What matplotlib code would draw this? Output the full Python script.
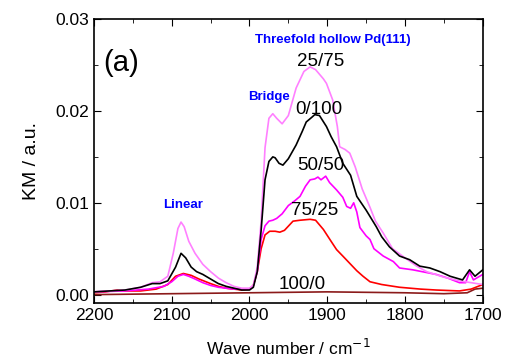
import matplotlib
matplotlib.use('Agg')
import matplotlib.pyplot as plt
from matplotlib.ticker import MultipleLocator

plt.rcParams['font.family'] = ['Liberation Sans', 'DejaVu Sans']

# 25/75 (light pink)
wn_2575 = [2200, 2180, 2160, 2140, 2125, 2115, 2105, 2098, 2092, 2088, 2084, 2078, 2070, 2060,
           2050, 2040, 2030, 2020, 2010, 2000, 1995, 1990, 1985, 1980, 1975, 1970, 1965, 1958,
           1950, 1940, 1930, 1922, 1915, 1905, 1901, 1893, 1887, 1884, 1877, 1871, 1864, 1855,
           1845, 1838, 1828, 1816, 1800, 1785, 1772, 1750, 1730, 1715, 1700]
km_2575 = [0.0003, 0.0004, 0.0005, 0.0008, 0.0013, 0.0014, 0.0020, 0.0045, 0.0072, 0.0079, 0.0074,
           0.0058, 0.0045, 0.0033, 0.0025, 0.0018, 0.0013, 0.0009, 0.0007, 0.0007, 0.0010, 0.0030,
           0.0080, 0.0160, 0.0192, 0.0197, 0.0192, 0.0186, 0.0195, 0.0225, 0.0243, 0.0248, 0.0245,
           0.0235, 0.0230, 0.0212, 0.0183, 0.0161, 0.0158, 0.0154, 0.0139, 0.0115, 0.0095, 0.0080,
           0.0067, 0.0050, 0.0040, 0.0031, 0.0025, 0.0019, 0.0015, 0.0013, 0.0011]

# 0/100 (black)
wn_0100 = [2200, 2160, 2140, 2125, 2115, 2105, 2095, 2088, 2082, 2075, 2068, 2060, 2050, 2040, 2030,
           2020, 2010, 2000, 1995, 1990, 1985, 1980, 1975, 1970, 1967, 1962, 1957, 1950, 1940, 1932,
           1927, 1920, 1916, 1910, 1901, 1895, 1888, 1880, 1870, 1862, 1850, 1837, 1830, 1820, 1807,
           1794, 1781, 1768, 1755, 1742, 1726, 1717, 1710, 1700]
km_0100 = [0.0003, 0.0005, 0.0008, 0.0012, 0.0012, 0.0015, 0.0030, 0.0045, 0.0040, 0.0030, 0.0025,
           0.0022, 0.0017, 0.0012, 0.0009, 0.0007, 0.0005, 0.0005, 0.0008, 0.0025, 0.0070, 0.0125,
           0.0145, 0.0150, 0.0149, 0.0143, 0.0141, 0.0148, 0.0163, 0.0178, 0.0188, 0.0193, 0.0196,
           0.0195, 0.0183, 0.0172, 0.0161, 0.0143, 0.0130, 0.0107, 0.0092, 0.0074, 0.0063, 0.0052,
           0.0042, 0.0038, 0.0031, 0.0029, 0.0025, 0.0020, 0.0016, 0.0027, 0.0020, 0.0027]

# 50/50 (magenta)
wn_5050 = [2200, 2160, 2130, 2110, 2100, 2092, 2085, 2078, 2070, 2060, 2050, 2040, 2030, 2020, 2010,
           2000, 1995, 1990, 1985, 1980, 1975, 1970, 1965, 1958, 1950, 1942, 1935, 1928, 1922, 1916,
           1912, 1908, 1902, 1897, 1888, 1880, 1875, 1870, 1866, 1862, 1858, 1850, 1845, 1840, 1828,
           1815, 1807, 1790, 1772, 1760, 1745, 1730, 1722, 1717, 1712, 1700]
km_5050 = [0.0003, 0.0004, 0.0006, 0.0009, 0.0014, 0.0020, 0.0022, 0.0020, 0.0017, 0.0013, 0.0010,
           0.0008, 0.0007, 0.0006, 0.0006, 0.0006, 0.0010, 0.0025, 0.0060, 0.0075, 0.0080, 0.0081,
           0.0083, 0.0088, 0.0097, 0.0102, 0.0107, 0.0118, 0.0125, 0.0126, 0.0128, 0.0125, 0.0129,
           0.0122, 0.0114, 0.0106, 0.0096, 0.0094, 0.0100, 0.0090, 0.0073, 0.0064, 0.0060, 0.0050,
           0.0042, 0.0036, 0.0029, 0.0027, 0.0024, 0.0022, 0.0018, 0.0013, 0.0013, 0.0025, 0.0016,
           0.0022]

# 75/25 (red)
wn_7525 = [2200, 2185, 2170, 2160, 2140, 2120, 2105, 2095, 2085, 2075, 2065, 2050, 2040, 2030, 2020,
           2010, 2000, 1995, 1990, 1985, 1980, 1974, 1967, 1961, 1955, 1944, 1935, 1922, 1915, 1905,
           1895, 1888, 1880, 1871, 1862, 1854, 1845, 1830, 1807, 1780, 1760, 1730, 1715, 1700]
km_7525 = [0.0002, 0.0003, 0.0005, 0.0004, 0.0004, 0.0006, 0.0011, 0.0020, 0.0023, 0.0021, 0.0017,
           0.0012, 0.0009, 0.0007, 0.0006, 0.0005, 0.0006, 0.0010, 0.0025, 0.0050, 0.0065, 0.0069,
           0.0069, 0.0068, 0.0070, 0.0080, 0.0081, 0.0082, 0.0081, 0.0071, 0.0058, 0.0049, 0.0042,
           0.0034, 0.0026, 0.0020, 0.0014, 0.0011, 0.0008, 0.0006, 0.0005, 0.0004, 0.0006, 0.0011]

# 100/0 (dark red)
wn_1000 = [2200, 2100, 2000, 1900, 1800, 1750, 1720, 1710, 1700]
km_1000 = [0.0000, 0.0001, 0.0002, 0.0003, 0.0002, 0.0001, 0.0002, 0.0006, 0.0007]

fig = plt.figure(figsize=(5.05, 3.61), dpi=100)
ax = fig.add_axes([0.186, 0.161, 0.770, 0.786])

ax.plot(wn_1000, km_1000, color='#8B1A1A', lw=1.2)
ax.plot(wn_7525, km_7525, color='#FF0000', lw=1.2)
ax.plot(wn_5050, km_5050, color='#FF00FF', lw=1.2)
ax.plot(wn_2575, km_2575, color='#FF80FF', lw=1.2)
ax.plot(wn_0100, km_0100, color='black', lw=1.2)

ax.set_xlim(2200, 1700)
ax.set_ylim(-0.0009, 0.03)
ax.xaxis.set_major_locator(MultipleLocator(100))
ax.xaxis.set_minor_locator(MultipleLocator(50))
ax.yaxis.set_major_locator(MultipleLocator(0.01))
ax.yaxis.set_minor_locator(MultipleLocator(0.005))
ax.yaxis.set_major_formatter(plt.FuncFormatter(lambda v, p: f"{v:.2f}"))
ax.tick_params(which='both', direction='in', top=True, right=True, labelsize=12.5)
ax.tick_params(which='major', length=5)
ax.tick_params(which='minor', length=3)
for s in ax.spines.values():
    s.set_linewidth(1.2)

ax.set_xlabel('Wave number / cm$^{-1}$', fontsize=12.5, labelpad=11)
ax.set_ylabel('KM / a.u.', fontsize=14, labelpad=11)

# annotations
ax.text(2188, 0.0252, '(a)', fontsize=21, ha='left', va='center')
ax.text(1893, 0.0277, 'Threefold hollow Pd(111)', fontsize=9.5, color='blue', fontweight='bold', ha='center', va='center')
ax.text(1908, 0.0254, '25/75', fontsize=13.5, ha='center', va='center')
ax.text(1975, 0.0215, 'Bridge', fontsize=9.5, color='blue', fontweight='bold', ha='center', va='center')
ax.text(1911, 0.0202, '0/100', fontsize=13.5, ha='center', va='center')
ax.text(1908, 0.0141, '50/50', fontsize=13.5, ha='center', va='center')
ax.text(1916, 0.0092, '75/25', fontsize=13.5, ha='center', va='center')
ax.text(1932, 0.0011, '100/0', fontsize=13.5, ha='center', va='center')
ax.text(2086, 0.0098, 'Linear', fontsize=9.5, color='blue', fontweight='bold', ha='center', va='center')

fig.savefig('out.png', dpi=100)
